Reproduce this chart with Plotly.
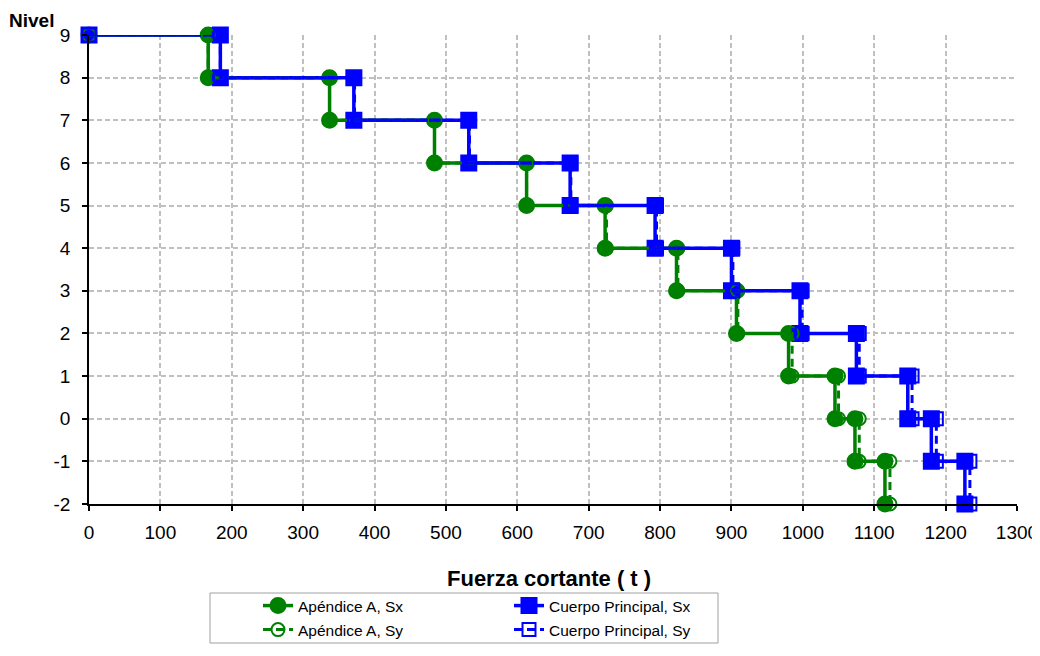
import plotly.graph_objects as go

# Levels (Nivel) and shear force (t) reached at the bottom of each level
levels = [9, 8, 7, 6, 5, 4, 3, 2, 1, 0, -1]
apendice_sx = [167, 337, 484, 613, 723, 823, 907, 980, 1045, 1073, 1115]
apendice_sy = [167, 337, 484, 613, 725, 825, 909, 985, 1050, 1079, 1122]
cuerpo_sx = [184, 371, 532, 674, 793, 900, 996, 1075, 1147, 1180, 1227]
cuerpo_sy = [184, 372, 533, 675, 795, 902, 999, 1079, 1153, 1187, 1234]

y_tickvals = [9, 8, 7, 6, 5, 4, 3, 2, 1, 0, -1, -2]
y_ticktext = ["9", "8", "7", "6", "5", "4", "3", "2", "1", "0", "-1", "-2"]
x_tickvals = list(range(0, 1301, 100))

names = ["Apéndice A, Sx", "Cuerpo Principal, Sx", "Apéndice A, Sy", "Cuerpo Principal, Sy"]


def steps(vals):
    xs, ys = [0], [levels[0]]
    for v, lv in zip(vals, levels):
        xs += [v, v]
        ys += [lv, lv - 1]
    return xs, ys


GREEN = "#008000"
BLUE = "#0000FF"
FONT = "Liberation Sans, Arial, sans-serif"

fig = go.Figure()

specs = [
    (apendice_sx, names[0], GREEN, "solid", "circle", 15, "legend"),
    (cuerpo_sx, names[1], BLUE, "solid", "square", 15, "legend"),
    (apendice_sy, names[2], GREEN, "8px,5px", "circle-open", 13, "legend2"),
    (cuerpo_sy, names[3], BLUE, "8px,5px", "square-open", 13, "legend2"),
]
for vals, name, col, dash, sym, size, leg in specs:
    xs, ys = steps(vals)
    fig.add_trace(go.Scatter(
        x=xs, y=ys, name=name, mode="lines+markers",
        line=dict(color=col, width=3.5 if dash == "solid" else 3, dash=dash),
        marker=dict(symbol=sym, size=size, color=col,
                    line=dict(color=col, width=2)),
        cliponaxis=False, legend=leg, hoverinfo="skip",
    ))

# The page body has an 8px margin, so the figure starts at (8, 8) in the window.
OFF = 8
W, H = 1040 - OFF, 636
L, T = 89 - OFF, 35 - OFF
R = W - (1017 - OFF)
B = H - (504 - OFF)
pw, ph = W - L - R, H - T - B


def px_x(p):  # window pixel -> paper x
    return (p - OFF - L) / pw


def px_y(p):  # window pixel -> paper y
    return (H - B - (p - OFF)) / ph


leg_common = dict(
    orientation="h", xanchor="left", yanchor="middle",
    entrywidth=206, entrywidthmode="pixels",
    font=dict(family=FONT, size=15.5, color="black"),
    bgcolor="rgba(0,0,0,0)", borderwidth=0, tracegroupgap=0,
)

axis_common = dict(
    showgrid=True, gridcolor="#C0C0C0", gridwidth=1.5, griddash="5px,3px",
    showline=True, linecolor="black", linewidth=1.5,
    ticks="outside", ticklen=5, tickcolor="black", tickwidth=1.5,
    tickfont=dict(family=FONT, size=19, color="black"),
    zeroline=False, automargin=False,
)

fig.update_layout(
    width=W, height=H,
    margin=dict(l=L, r=R, t=T, b=B, autoexpand=False),
    paper_bgcolor="white", plot_bgcolor="white",
    font=dict(family=FONT, size=18, color="black"),
    showlegend=True,
    legend=dict(x=px_x(258), y=px_y(606), **leg_common),
    legend2=dict(x=px_x(258), y=px_y(630), **leg_common),
    xaxis=dict(range=[0, 1300], tickvals=x_tickvals, ticklabelstandoff=5,
               **axis_common),
    yaxis=dict(range=[-2, 9], tickvals=y_tickvals, ticktext=y_ticktext,
               ticklabelstandoff=8, **axis_common),
    annotations=[
        dict(text="<b>Nivel</b>", xref="paper", yref="paper",
             x=px_x(31), y=px_y(OFF), xanchor="center", yanchor="top",
             showarrow=False, font=dict(family=FONT, size=19, color="black")),
        dict(text="<b>Fuerza cortante ( t )</b>", xref="paper", yref="paper",
             x=px_x(549), y=px_y(578), xanchor="center", yanchor="middle",
             showarrow=False, font=dict(family=FONT, size=22, color="black")),
    ],
    shapes=[
        dict(type="rect", xref="paper", yref="paper",
             x0=px_x(210), x1=px_x(718), y0=px_y(643), y1=px_y(593),
             line=dict(color="#A0A0A0", width=1), fillcolor="rgba(0,0,0,0)",
             layer="above"),
    ],
)

fig.write_html("out.html")
